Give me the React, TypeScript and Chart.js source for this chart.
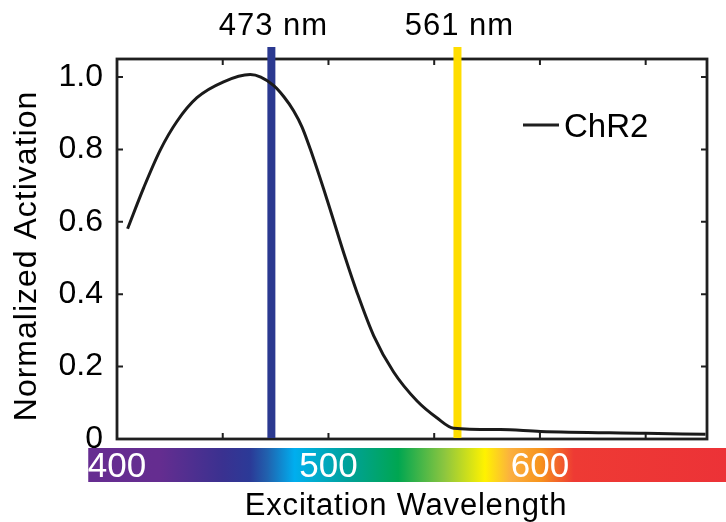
import React, { useEffect, useRef } from "react";
import { Chart, registerables } from "chart.js";

Chart.register(...registerables);

// ---- data ----
const SERIES_LABEL = "ChR2";
const WAVELENGTHS = [405, 412.6, 420.5, 428.4, 437.8, 450.4, 463, 468, 474, 479, 483.5, 487.5, 491.4, 499.3, 508, 513.5, 521.4, 530.8, 541.9, 551.4, 559.2, 581.3, 600.2, 649.9, 678.3];
const ACTIVATION = [0.581, 0.694, 0.799, 0.878, 0.943, 0.987, 1.007, 1.0, 0.977, 0.945, 0.907, 0.862, 0.801, 0.662, 0.5, 0.405, 0.285, 0.185, 0.105, 0.058, 0.03, 0.026, 0.021, 0.016, 0.013];
const Y_TICKS = [0, 0.2, 0.4, 0.6, 0.8, 1.0];
const X_TICKS = [450, 500, 550, 600, 650];
const X_MIN = 400;
const X_MAX = 679;
const Y_MIN = 0;
const Y_MAX = 1.05;
const LASER_LINES = [473, 561];
const LASER_LABELS = ["473 nm", "561 nm"];
const LASER_COLORS = ["#2b3990", "#ffdd00"];
const SPECTRUM_LABELS = [400, 500, 600];
const SPECTRUM_RANGE = [386.4, 690];
const SPECTRUM_STOPS = [386.4, 420, 450, 463, 471, 484, 493, 509, 533, 555, 574, 586, 600, 616, 690];
const SPECTRUM_COLORS = ["#662d91", "#652d90", "#3a3190", "#2b3a97", "#2161ae", "#00aeef", "#00acd0", "#00a19a", "#00a651", "#8dc63f", "#fff200", "#fbb040", "#f7941d", "#ee3a34", "#ec3237"];
const X_TITLE = "Excitation Wavelength";
const Y_TITLE = "Normalized Activation";

const FONT = '"Liberation Sans", Arial, Helvetica, sans-serif';
const INK = "#1f1f1f";

const decor = {
  id: "decor",
  beforeDatasetsDraw(chart: any) {
    const ctx = chart.ctx as CanvasRenderingContext2D;
    const xs = chart.scales.x;
    const ys = chart.scales.y;
    const { left, right, top, bottom } = chart.chartArea;

    // spectrum bar
    ctx.save();
    const bx0 = xs.getPixelForValue(SPECTRUM_RANGE[0]);
    const bx1 = xs.getPixelForValue(SPECTRUM_RANGE[1]);
    const grad = ctx.createLinearGradient(bx0, 0, bx1, 0);
    SPECTRUM_STOPS.forEach((nm, i) => {
      const p = (xs.getPixelForValue(nm) - bx0) / (bx1 - bx0);
      grad.addColorStop(Math.min(1, Math.max(0, p)), SPECTRUM_COLORS[i]);
    });
    ctx.fillStyle = grad;
    ctx.fillRect(bx0, bottom + 9, bx1 - bx0, 34);
    ctx.fillStyle = "#ffffff";
    ctx.font = `35px ${FONT}`;
    ctx.textAlign = "center";
    ctx.textBaseline = "alphabetic";
    SPECTRUM_LABELS.forEach((nm) => {
      ctx.fillText(String(nm), xs.getPixelForValue(nm), bottom + 38);
    });
    ctx.restore();

    // frame
    ctx.save();
    ctx.strokeStyle = INK;
    ctx.lineWidth = 2.8;
    ctx.strokeRect(left, top, right - left, bottom - top);
    ctx.lineWidth = 2;
    ctx.beginPath();
    X_TICKS.forEach((v) => {
      const x = xs.getPixelForValue(v);
      ctx.moveTo(x, bottom);
      ctx.lineTo(x, bottom - 6);
      ctx.moveTo(x, top);
      ctx.lineTo(x, top + 6);
    });
    Y_TICKS.forEach((v) => {
      if (v === 0) return;
      const y = ys.getPixelForValue(v);
      ctx.moveTo(left, y);
      ctx.lineTo(left + 6, y);
      ctx.moveTo(right, y);
      ctx.lineTo(right - 6, y);
    });
    ctx.stroke();
    ctx.restore();

    // laser lines + labels
    ctx.save();
    LASER_LINES.forEach((nm, i) => {
      const x = xs.getPixelForValue(nm);
      ctx.fillStyle = LASER_COLORS[i];
      ctx.fillRect(x - 4, top - 12, 8, bottom - top + 11);
      ctx.fillStyle = "#000";
      ctx.font = `31px ${FONT}`;
      (ctx as any).letterSpacing = "1px";
      ctx.textAlign = "center";
      ctx.textBaseline = "alphabetic";
      ctx.fillText(LASER_LABELS[i], x + 2, 35);
    });
    ctx.restore();

    // titles
    ctx.save();
    ctx.fillStyle = "#000";
    ctx.font = `31px ${FONT}`;
    (ctx as any).letterSpacing = "0.8px";
    ctx.textAlign = "center";
    ctx.textBaseline = "alphabetic";
    ctx.fillText(X_TITLE, 406, 515);
    ctx.translate(36, 256);
    ctx.rotate(-Math.PI / 2);
    ctx.font = `32px ${FONT}`;
    (ctx as any).letterSpacing = "1px";
    ctx.fillText(Y_TITLE, 0, 0);
    ctx.restore();

    // legend
    ctx.save();
    ctx.strokeStyle = INK;
    ctx.lineWidth = 3;
    ctx.beginPath();
    ctx.moveTo(523, 125);
    ctx.lineTo(559, 125);
    ctx.stroke();
    ctx.fillStyle = "#000";
    ctx.font = `33px ${FONT}`;
    ctx.textAlign = "left";
    ctx.textBaseline = "alphabetic";
    ctx.fillText(chart.data.datasets[0].label, 564, 136.5);
    ctx.restore();
  },
};

export default function App() {
  const ref = useRef<HTMLCanvasElement | null>(null);
  useEffect(() => {
    const canvas = ref.current!;
    const chart = new Chart(canvas, {
      type: "line",
      data: {
        datasets: [
          {
            label: SERIES_LABEL,
            data: WAVELENGTHS.map((x, i) => ({ x, y: ACTIVATION[i] })),
            borderColor: "#1a1a1a",
            borderWidth: 3,
            pointRadius: 0,
            cubicInterpolationMode: "monotone",
            fill: false,
          },
        ],
      },
      options: {
        responsive: false,
        animation: false,
        devicePixelRatio: 1,
        layout: { padding: { top: 59, right: 19, bottom: 83, left: 0 } },
        plugins: { legend: { display: false }, tooltip: { enabled: false } },
        scales: {
          x: { type: "linear", min: X_MIN, max: X_MAX, display: false },
          y: {
            type: "linear",
            min: Y_MIN,
            max: Y_MAX,
            afterFit: (s: any) => {
              s.width = 117;
            },
            afterBuildTicks: (s: any) => {
              s.ticks = Y_TICKS.map((v) => ({ value: v }));
            },
            grid: { display: false, drawTicks: false },
            border: { display: false },
            ticks: {
              color: "#000",
              padding: 14,
              font: { family: FONT, size: 32 },
              callback: (v: any) => (Number(v) === 0 ? "0" : Number(v).toFixed(1)),
            },
          },
        },
      } as any,
      plugins: [decor],
    });
    return () => chart.destroy();
  }, []);
  return (
    <div style={{ position: "fixed", left: 0, top: 0, width: 726, height: 522, background: "#fff" }}>
      <canvas ref={ref} width={726} height={522} style={{ display: "block" }} />
    </div>
  );
}
